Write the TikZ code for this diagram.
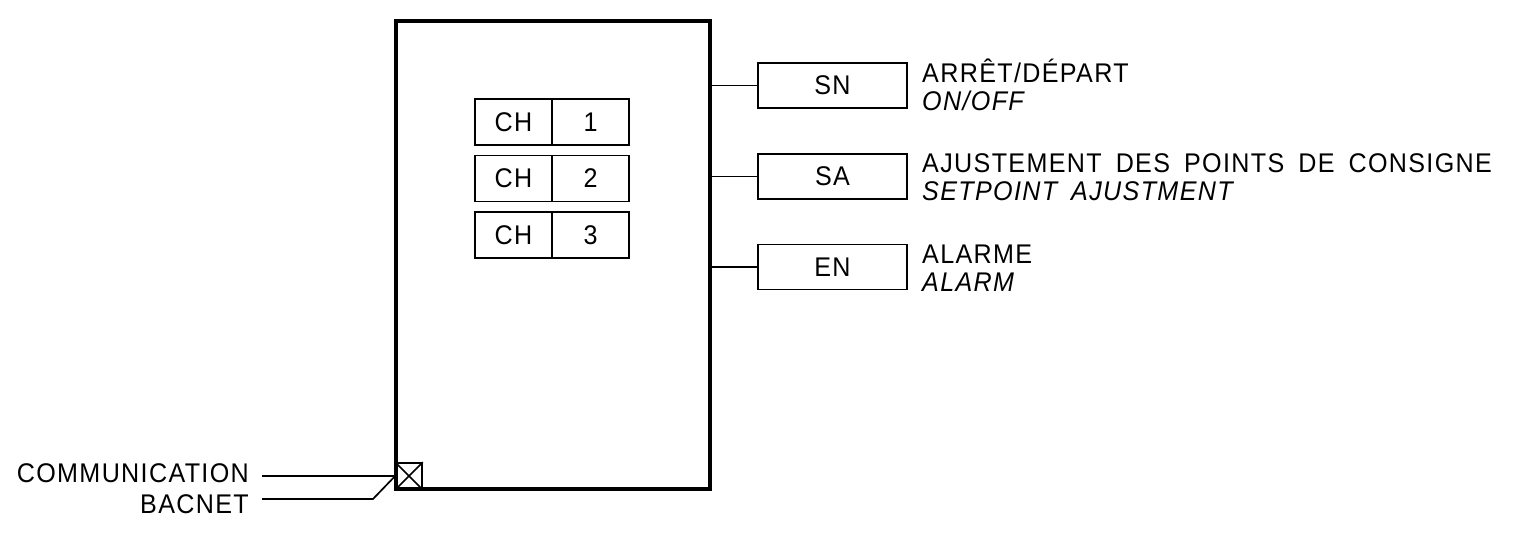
\documentclass[tikz,border=0pt]{standalone}
\usepackage{fontspec}
\setmainfont[FakeStretch=0.93,LetterSpace=5]{Liberation Sans}
\newcommand\lblfont{\fontsize{27}{30}\selectfont\spaceskip 14pt\relax}
\newcommand\ilblfont{\fontsize{27}{30}\selectfont\itshape\spaceskip 14pt\relax}
\begin{document}
\begin{tikzpicture}[x=1pt,y=-1pt,
  thin line/.style={line width=1.7pt},
  thick line/.style={line width=3.2pt},
  box/.style={draw,thin line,inner sep=0pt,minimum height=46pt,font=\lblfont},
  lbl/.style={inner sep=0pt,font=\lblfont},
  ilbl/.style={inner sep=0pt,font=\ilblfont},
]
\useasboundingbox (0,0) rectangle (1527,539);
% main enclosure
\node[draw,thick line,minimum width=314pt,minimum height=468pt,inner sep=0pt] (main) at (553,255) {};
% CH boxes
\node[box,minimum width=77pt] (ch1) at (513.5,122) {CH};
\node[box,minimum width=77pt] (n1) at (590.5,122) {1};
\node[box,minimum width=77pt] (ch2) at (513.5,178.5) {CH};
\node[box,minimum width=77pt] (n2) at (590.5,178.5) {2};
\node[box,minimum width=77pt] (ch3) at (513.5,235) {CH};
\node[box,minimum width=77pt] (n3) at (590.5,235) {3};
% right boxes
\node[box,minimum width=149pt,minimum height=45pt] (sn) at (832.5,85.5) {SN};
\node[box,minimum width=149pt,minimum height=45pt] (sa) at (832.5,176.5) {SA};
\node[box,minimum width=149pt,minimum height=45pt] (en) at (832.5,267) {EN};
\draw[thin line] (main.east |- sn.west) -- (sn.west);
\draw[thin line] (main.east |- sa.west) -- (sa.west);
\draw[thin line] (main.east |- en.west) -- (en.west);
% right labels
\node[lbl,anchor=base west] (l1a) at (922,82) {ARRÊT/DÉPART};
\node[ilbl,anchor=base west] (l1b) at (922,110) {ON/OFF};
\node[lbl,anchor=base west] (l2a) at (922,172) {AJUSTEMENT DES POINTS DE CONSIGNE};
\node[ilbl,anchor=base west] (l2b) at (922,200) {SETPOINT AJUSTMENT};
\node[lbl,anchor=base west] (l3a) at (922,263) {ALARME};
\node[ilbl,anchor=base west] (l3b) at (922,291) {ALARM};
% communication
\node[draw,thin line,minimum width=26pt,minimum height=26pt,inner sep=0pt] (sq) at (409,476) {};
\draw[thin line] (sq.north west) -- (sq.south east) (sq.north east) -- (sq.south west);
\node[lbl,anchor=base east] (comm) at (249,482) {COMMUNICATION};
\node[lbl,anchor=base east] (bac) at (249,513.5) {BACNET};
\coordinate (c1) at (262,476);
\coordinate (c2) at (262,499);
\coordinate (c3) at (373,499);
\draw[thin line] (c1) -- (sq.west);
\draw[thin line] (c2) -- (c3) -- (sq.west);
\end{tikzpicture}
\end{document}
